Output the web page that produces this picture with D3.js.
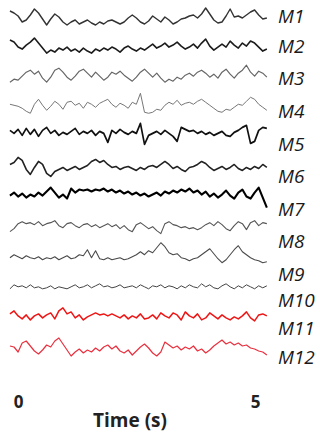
<!DOCTYPE html>
<html>
<head>
<meta charset="utf-8">
<script src="https://cdn.jsdelivr.net/npm/d3@7"></script>
<style>
  html, body { margin: 0; padding: 0; background: #fff; }
  svg { display: block; }
</style>
</head>
<body>
<svg id="chart" width="320" height="434"></svg>
<script>
// ---- data ----
const channels = ["M1","M2","M3","M4","M5","M6","M7","M8","M9","M10","M11","M12"];
const timeRange = [-0.17, 5.25];   // seconds covered by each trace
const xTicks = [0, 5];
const xLabel = "Time (s)";

const m1  = [6,4,1,-5,-3,2,8,4,-2,-8,-2,3,0,-5,-8,-5,-3,-7,-5,-3,-6,-8,-5,-7,-4,-3,-5,-7,-5,-1,2,-1,-5,-7,-4,1,-2,-5,0,-3,-7,-5,-2,-1,1,2,-1,3,9,3,-3,-6,-5,1,8,0,1,-1,2,5,7,2,-2,-1];
const m2  = [7,5,0,-2,2,5,9,4,-1,-6,-3,-5,-1,-3,0,-4,-2,-5,-1,-4,-6,-2,-4,-1,-3,0,-2,-5,-1,1,-2,-4,-1,-3,0,3,-1,1,4,0,2,5,1,-2,0,3,-1,4,8,1,-3,0,3,0,6,2,-1,4,1,6,4,0,-4,-2];
const m3  = [-5,-2,-3,1,5,7,3,6,-1,-5,0,7,9,5,0,-3,1,6,8,4,0,5,1,-3,0,5,3,6,2,-1,-4,0,5,8,4,0,4,-1,-5,-2,-4,0,-2,2,4,1,5,7,4,0,3,-1,5,8,3,-1,4,7,12,5,1,6,4,0];
const m4  = [3,2,1,-1,-4,-6,3,8,2,-3,1,6,3,-2,5,6,2,4,-1,5,3,0,4,6,8,3,0,4,2,-1,5,3,14,-5,-6,-5,-2,-3,2,5,3,7,2,4,5,3,6,8,5,2,-1,-4,-5,-2,-3,0,3,2,6,10,8,3,0,-3];
const m5  = [7,4,8,2,9,3,8,1,7,10,4,7,2,5,3,6,9,3,6,4,7,2,6,4,-5,7,4,8,5,3,6,4,14,-7,2,4,6,3,7,4,1,-4,10,8,6,7,4,6,3,5,2,4,6,2,1,5,7,10,12,-6,-4,7,10,9];
const m6  = [3,5,10,7,-2,-7,0,6,3,-6,-9,-4,-2,0,-3,-1,1,-2,0,2,6,8,5,7,3,0,1,-2,0,1,-1,-3,0,-2,1,2,0,3,6,3,-1,1,-2,-4,0,1,3,6,4,0,-3,-1,1,-2,0,3,-1,-3,0,-2,1,-1,3,0];
const m7  = [2,5,1,4,0,3,1,5,2,6,10,5,0,3,-1,9,5,8,7,8,6,8,7,9,6,8,5,7,4,6,3,5,2,4,1,3,5,2,6,4,7,5,8,6,9,5,7,3,6,1,4,0,3,7,2,-1,5,8,1,-1,5,10,0,-10];
const m8  = [-4,-1,4,6,4,5,3,6,2,4,5,7,2,0,4,5,2,0,3,4,1,3,0,2,4,1,3,-1,2,-2,-4,3,5,2,-1,1,-3,-6,4,6,3,2,0,1,-1,0,-2,0,3,5,2,6,3,-1,-3,2,6,4,-2,5,7,2,5,4];
const m9  = [0,3,1,-1,2,0,-1,1,-2,0,-1,1,-2,0,2,-1,0,3,2,8,0,7,-1,-2,0,-2,-1,0,-2,-1,1,3,6,3,7,5,10,15,11,5,3,4,0,-1,-3,-1,0,3,6,9,4,-1,-5,-2,3,8,12,6,3,0,-2,-3,-5,-4];
const m10 = [-1,3,1,2,0,3,0,1,-1,0,2,-1,1,0,-1,1,3,0,1,3,0,2,4,1,2,0,1,3,0,1,2,0,3,1,-1,2,1,3,0,2,1,-1,2,0,3,1,0,4,1,3,0,-1,2,4,1,-1,2,0,3,1,-1,2,0,2];
const m11 = [4,7,2,-1,3,-2,2,4,0,3,5,-1,7,10,4,6,0,3,-2,1,3,5,3,4,2,4,2,0,3,-1,2,0,4,-1,0,3,-1,5,2,0,5,3,-2,6,2,0,4,-2,0,5,2,-1,3,0,-2,1,-1,2,6,0,-3,3,4,2];
const m12 = [2,1,-4,5,7,2,-3,-6,-2,3,1,7,10,4,-2,-8,-4,-1,-5,-2,-4,0,-3,1,3,-1,2,-3,-5,-2,-7,-3,1,4,0,-5,-8,-4,6,3,0,2,-2,1,-1,2,-3,-1,-5,-2,2,5,8,4,6,3,5,2,3,0,-1,-3,-4,-7];

const seriesValues = [m1,m2,m3,m4,m5,m6,m7,m8,m9,m10,m11,m12];

// ---- styles ----
const colors = ["#333","#1c1c1c","#666","#777","#111","#222","#000","#555","#4a4a4a","#444","#ee1515","#e8303f"];
const widths = [1.4,1.6,1.2,1.0,1.7,1.6,2.1,1.1,1.1,1.0,1.5,1.2];

const svg = d3.select("#chart");

const x = d3.scaleLinear().domain([0, 5]).range([18, 255]);
const rowY = d3.scalePoint().domain(channels).range([17, 348]);
const amp = d3.scaleLinear().domain([-15, 15]).range([15, -15]);
const labelY = d3.scaleLinear().domain([0, 1, 8, 9, 11]).range([16, 46, 274, 300, 357]);

const line = d3.line()
  .x(d => x(d.t))
  .y(d => d.y);

channels.forEach((ch, ci) => {
  const vals = seriesValues[ci];
  const n = vals.length;
  const tScale = d3.scaleLinear().domain([0, n - 1]).range(timeRange);
  const pts = vals.map((v, i) => ({ t: tScale(i), y: rowY(ch) + amp(v) }));
  svg.append("path")
    .datum(pts)
    .attr("d", line)
    .attr("fill", "none")
    .attr("stroke", colors[ci])
    .attr("stroke-width", widths[ci])
    .attr("stroke-linejoin", "round");

  svg.append("text")
    .attr("x", 278)
    .attr("y", labelY(ci))
    .attr("dy", "0.36em")
    .attr("font-family", "'Open Sans', sans-serif")
    .attr("font-style", "italic")
    .attr("font-size", 19)
    .attr("fill", "#1a1a1a")
    .text(ch);
});

const axis = d3.axisBottom(x).tickValues(xTicks).tickSize(0).tickPadding(0).tickFormat(d3.format("d"));
const ax = svg.append("g").attr("transform", "translate(0,396)").call(axis);
ax.select(".domain").remove();
ax.selectAll("text")
  .attr("font-family", "'Open Sans', sans-serif")
  .attr("font-weight", "bold")
  .attr("font-size", 17)
  .attr("fill", "#222");

svg.append("text")
  .attr("x", 130)
  .attr("y", 427)
  .attr("text-anchor", "middle")
  .attr("font-family", "'Open Sans', sans-serif")
  .attr("font-weight", "bold")
  .attr("font-size", 19)
  .attr("fill", "#222")
  .text(xLabel);
</script>
</body>
</html>
